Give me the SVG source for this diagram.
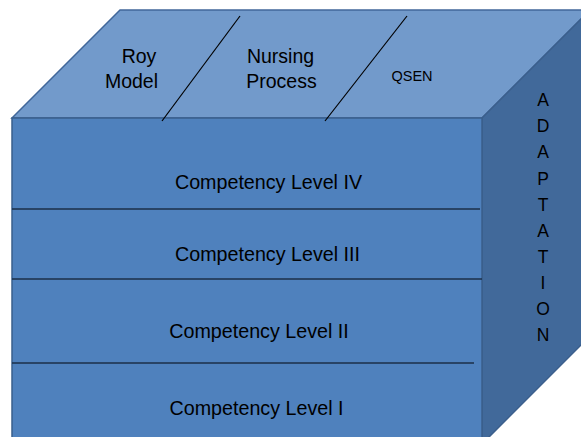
<svg xmlns="http://www.w3.org/2000/svg" width="581" height="437" viewBox="0 0 581 437">
<style>
text{font-family:"Liberation Sans",Arial,sans-serif;fill:#000;text-anchor:middle}
.lbl{font-size:19.7px}
.top{font-size:19.5px}
.adp{font-size:17.5px}
.sep{stroke:#000;stroke-width:1.2}
.div{stroke:#1b2f48;stroke-width:1.5}
</style>
<rect width="581" height="437" fill="#fff"/>
<g id="cube">
<polygon points="12,118 120,10 590,10 482,118" fill="#729acb" stroke="#41679a" stroke-width="1.5"/>
<polygon points="482,118 590,10 590,336 482,444" fill="#41699a" stroke="#3b5f8c" stroke-width="1.5"/>
<rect x="12" y="118" width="470" height="326" fill="#4f81bd" stroke="#3a5f8c" stroke-width="1.5"/>
</g>
<g id="connectors">
<line class="sep" x1="162" y1="121" x2="240" y2="16"/>
<line class="sep" x1="325" y1="121" x2="407" y2="16"/>
<line class="div" x1="12" y1="209" x2="480" y2="209"/>
<line class="div" x1="12" y1="279" x2="482" y2="279"/>
<line class="div" x1="12" y1="363" x2="474" y2="363"/>
</g>
<g id="roy-model"><text class="top" x="139" y="63">Roy</text><text class="top" x="131.5" y="88">Model</text></g>
<g id="nursing-process"><text class="top" x="280.5" y="63">Nursing</text><text class="top" x="281.5" y="88">Process</text></g>
<g id="qsen"><text x="412" y="81" style="font-size:14.5px">QSEN</text></g>
<g id="level-4"><text class="lbl" x="268.5" y="189">Competency Level IV</text></g>
<g id="level-3"><text class="lbl" x="267.5" y="261">Competency Level III</text></g>
<g id="level-2"><text class="lbl" x="259" y="338">Competency Level II</text></g>
<g id="level-1"><text class="lbl" x="256.5" y="415">Competency Level I</text></g>
<g id="adaptation">
<text class="adp" x="543" y="106">A</text>
<text class="adp" x="543" y="132">D</text>
<text class="adp" x="543" y="158">A</text>
<text class="adp" x="543" y="185">P</text>
<text class="adp" x="543" y="211">T</text>
<text class="adp" x="543" y="237">A</text>
<text class="adp" x="543" y="263">T</text>
<text class="adp" x="543" y="289">I</text>
<text class="adp" x="543" y="315">O</text>
<text class="adp" x="543" y="341">N</text>
</g>
</svg>
